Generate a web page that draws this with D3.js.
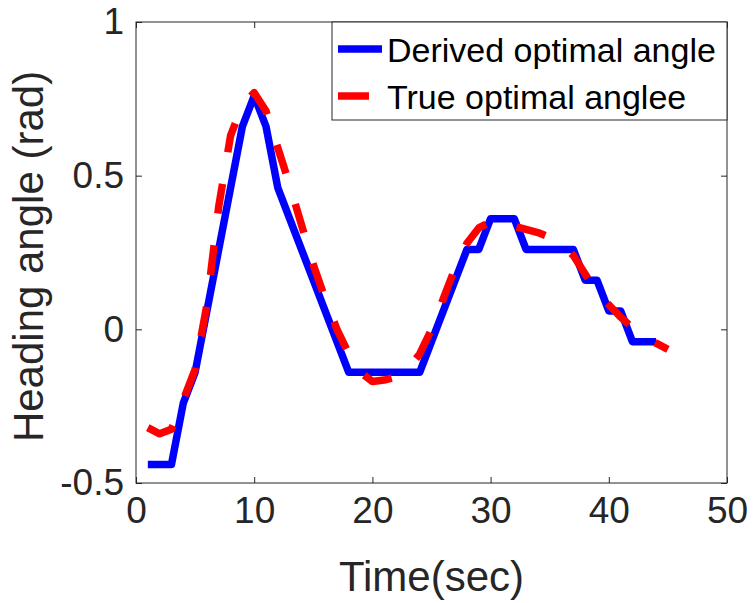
<!DOCTYPE html>
<html>
<head>
<meta charset="utf-8">
<script src="https://cdn.jsdelivr.net/npm/d3@7"></script>
<style>
  html, body { margin: 0; padding: 0; background: #fff; }
  svg { display: block; font-family: "Liberation Sans", Arial, Helvetica, sans-serif; }
</style>
</head>
<body>
<svg id="chart" width="754" height="603"></svg>
<script>
// ---- data ----
const derivedTime  = [1, 3, 4, 5, 9, 10, 11, 12, 18, 24, 28, 29, 30, 32, 33, 37, 38, 39, 40, 41, 42, 44];
const derivedAngle = [-0.44, -0.44, -0.24, -0.14, 0.66, 0.76, 0.66, 0.46, -0.14, -0.14, 0.26, 0.26, 0.36, 0.36, 0.26, 0.26, 0.16, 0.16, 0.06, 0.06, -0.04, -0.04];

const trueTime  = [1,2,3,4,5,6,7,8,9,10,11,12,13,14,15,16,17,18,19,20,21,22,23,24,25,26,27,28,29,30,31,32,33,34,35,36,37,38,39,40,41,42,43,44,45];
const trueAngle = [-0.32,-0.34,-0.325,-0.23,-0.13,0.08,0.40,0.63,0.73,0.77,
                   0.71,0.59,0.47,0.34,0.21,0.10,0.0,-0.08,-0.14,-0.17,
                   -0.165,-0.155,-0.13,-0.08,0.0,0.1,0.2,0.28,0.33,0.35,
                   0.35,0.335,0.325,0.315,0.30,0.28,0.24,0.18,0.12,0.08,
                   0.04,0.005,-0.025,-0.045,-0.065];

const xTicks = [0, 10, 20, 30, 40, 50];
const xTickLabels = ["0", "10", "20", "30", "40", "50"];
const yTicks = [-0.5, 0, 0.5, 1];
const yTickLabels = ["-0.5", "0", "0.5", "1"];

const seriesNames = ["Derived optimal angle", "True optimal anglee"];
const xLabel = "Time(sec)";
const yLabel = "Heading angle (rad)";

// ---- layout ----
const L = 136, R = 727, T = 22, B = 483;
const axisColor = "#262626";
const svg = d3.select("#chart");

const x = d3.scaleLinear().domain([0, 50]).range([L, R]);
const y = d3.scaleLinear().domain([-0.5, 1]).range([B, T]);

// axes box
svg.append("rect")
  .attr("x", L).attr("y", T).attr("width", R - L).attr("height", B - T)
  .attr("fill", "none").attr("stroke", axisColor).attr("stroke-width", 1);

function styleAxis(g) {
  g.select(".domain").remove();
  g.selectAll(".tick line").attr("stroke", axisColor).attr("stroke-width", 1);
  g.selectAll(".tick text").attr("fill", axisColor).attr("font-size", 37)
    .attr("font-family", "Liberation Sans, Arial, sans-serif");
}

// bottom axis
svg.append("g").attr("transform", `translate(0,${B})`)
  .call(d3.axisBottom(x).tickValues(xTicks).tickSizeInner(-6).tickSizeOuter(0).tickPadding(14)
    .tickFormat((d, i) => xTickLabels[i]))
  .call(styleAxis)
  .call(g => g.selectAll(".tick text").attr("dy", "0.71em"));

// top axis (ticks only)
svg.append("g").attr("transform", `translate(0,${T})`)
  .call(d3.axisTop(x).tickValues(xTicks).tickSizeInner(-6).tickSizeOuter(0).tickFormat(""))
  .call(styleAxis);

// left axis
svg.append("g").attr("transform", `translate(${L},0)`)
  .call(d3.axisLeft(y).tickValues(yTicks).tickSizeInner(-6).tickSizeOuter(0).tickPadding(12)
    .tickFormat((d, i) => yTickLabels[i]))
  .call(styleAxis);

// right axis (ticks only)
svg.append("g").attr("transform", `translate(${R},0)`)
  .call(d3.axisRight(y).tickValues(yTicks).tickSizeInner(-6).tickSizeOuter(0).tickFormat(""))
  .call(styleAxis);

// lines
const derived = derivedTime.map((t, i) => [t, derivedAngle[i]]);
const truth = trueTime.map((t, i) => [t, trueAngle[i]]);
const line = d3.line().x(d => x(d[0])).y(d => y(d[1]));

svg.append("path").datum(derived)
  .attr("d", line).attr("fill", "none")
  .attr("stroke", "#0000ff").attr("stroke-width", 7.5)
  .attr("stroke-linejoin", "round");

svg.append("path").datum(truth)
  .attr("d", line).attr("fill", "none")
  .attr("stroke", "#ff0000").attr("stroke-width", 7.5)
  .attr("stroke-dasharray", "30,32")
  .attr("stroke-linejoin", "round");

// axis labels
svg.append("text")
  .attr("x", (L + R) / 2).attr("y", 591)
  .attr("text-anchor", "middle").attr("font-size", 42).attr("fill", axisColor)
  .text(xLabel);

svg.append("text")
  .attr("transform", `translate(43,${(T + B) / 2 + 4}) rotate(-90)`)
  .attr("text-anchor", "middle").attr("font-size", 42).attr("fill", axisColor)
  .text(yLabel);

// legend
const lg = svg.append("g");
lg.append("rect")
  .attr("x", 332).attr("y", 22).attr("width", R - 332).attr("height", 98)
  .attr("fill", "#fff").attr("stroke", axisColor).attr("stroke-width", 1);
const legendColors = ["#0000ff", "#ff0000"];
const legendY = [49, 96];
seriesNames.forEach((name, i) => {
  lg.append("line")
    .attr("x1", 338).attr("x2", 382).attr("y1", legendY[i]).attr("y2", legendY[i])
    .attr("stroke", legendColors[i]).attr("stroke-width", 7.5)
    .attr("stroke-dasharray", i === 1 ? "31,32" : null);
  lg.append("text")
    .attr("x", 387).attr("y", legendY[i] + 13)
    .attr("font-size", 34).attr("fill", "#000")
    .text(name);
});
</script>
</body>
</html>
